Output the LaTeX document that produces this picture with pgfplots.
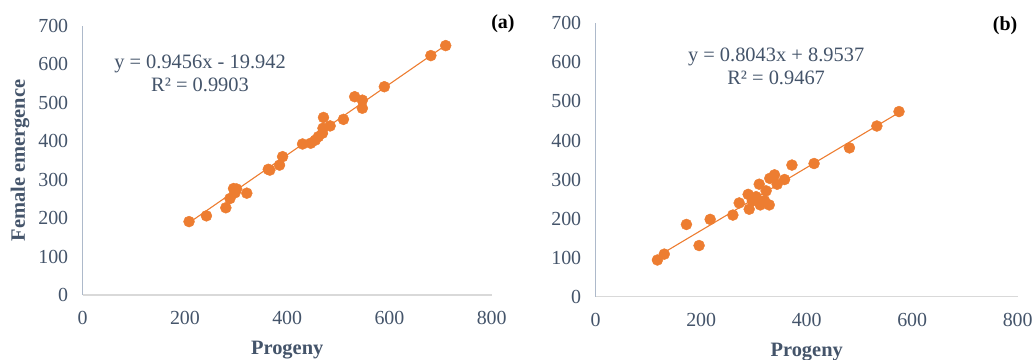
\documentclass[border=0pt]{standalone}
\usepackage{pgfplots}
\pgfplotsset{compat=1.18}
\usepackage{fontspec}
\setmainfont{Liberation Serif}
\definecolor{txt}{HTML}{44546A}
\definecolor{org}{HTML}{ED7D31}
\definecolor{yax}{HTML}{ADB9CA}
\definecolor{xax}{HTML}{D9D9D9}
\begin{document}
\begin{tikzpicture}
\useasboundingbox (0bp,0bp) rectangle (1033bp,360bp);
\pgfplotsset{
  panel/.style={
    scale only axis, anchor=south west,
    xmin=0, xmax=800, ymin=0, ymax=700,
    xtick={0,200,...,800}, ytick={0,100,...,700},
    axis x line*=bottom, axis y line*=left,
    x axis line style={xax, line width=1.3bp, -},
    y axis line style={yax, line width=1.3bp, -},
    major tick length=0pt,
    tick label style={font=\fontsize{20}{22}\selectfont, text=txt},
    /pgf/number format/assume math mode=true,
    xticklabel style={yshift=-13bp},
    yticklabel style={xshift=-11bp},
    label style={font=\bfseries\fontsize{20.5}{22}\selectfont, text=txt},
    clip=false,
  },
}
% panel (a)
\begin{axis}[panel, at={(82.7bp,65bp)}, width=409bp, height=269bp,
  xlabel={Progeny}, ylabel={Female emergence},
  xlabel style={yshift=-9bp}, ylabel style={yshift=2bp}]
\addplot[org, line width=1.1bp, no marks] coordinates {(208,188) (710,650)};
\addplot[only marks, mark=*, mark size=5.5bp, mark options={draw=org, fill=org}] coordinates {
(208,191) (242,206) (280,227) (288,251) (295,277) (301,276) (298,266) (321,265)
(363,327) (366,325) (385,338) (391,360) (430,393) (446,395) (455,403) (461,412)
(469,421) (470,434) (471,462) (484,440) (510,457) (532,516) (547,507) (547,486)
(590,542) (681,623) (710,649)};
\node[text=txt, font=\fontsize{20.5}{23}\selectfont, align=center] at (axis cs:229.5,576) {y = 0.9456x - 19.942\\R² = 0.9903};
\node[text=black, font=\bfseries\fontsize{20}{22}\selectfont] at (axis cs:822,706) {(a)};
\end{axis}
% panel (b)
\begin{axis}[panel, at={(595.7bp,63.3bp)}, width=422bp, height=273.4bp,
  xlabel={Progeny}, xlabel style={yshift=-10bp}]
\addplot[org, line width=1.1bp, no marks] coordinates {(117,103.1) (575,471.4)};
\addplot[only marks, mark=*, mark size=5.5bp, mark options={draw=org, fill=org}] coordinates {
(117,94) (130,109) (172,185) (196,131) (217,198) (260,209) (272,240) (289,262)
(291,224) (297,245) (304,256) (310,288) (312,235) (320,246) (323,271) (329,235)
(330,303) (339,312) (344,288) (358,300) (372,337) (414,341) (481,381) (533,437)
(575,474)};
\node[text=txt, font=\fontsize{20.5}{23}\selectfont, align=center] at (axis cs:342,589) {y = 0.8043x + 8.9537\\R² = 0.9467};
\node[text=black, font=\bfseries\fontsize{20}{22}\selectfont] at (axis cs:776,694) {(b)};
\end{axis}
\end{tikzpicture}
\end{document}
